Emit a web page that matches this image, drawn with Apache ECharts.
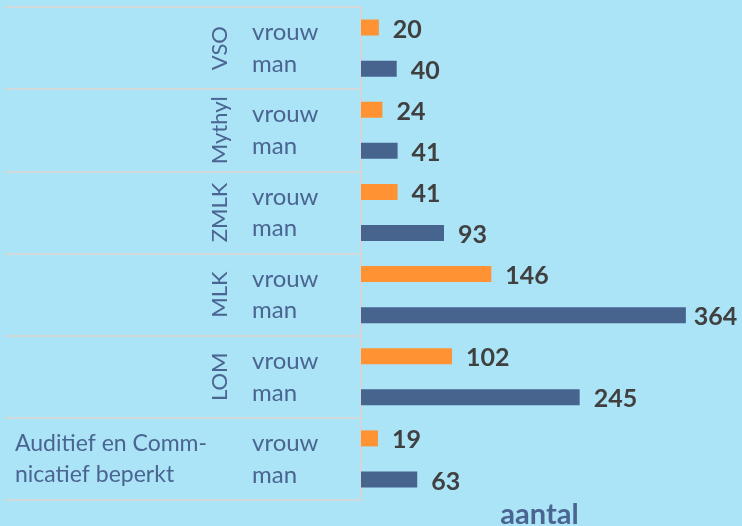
<!DOCTYPE html>
<html>
<head>
<meta charset="utf-8">
<script src="https://cdn.jsdelivr.net/npm/echarts@6/dist/echarts.min.js"></script>
<style>
html,body{margin:0;padding:0;background:#abe3f7;}
#chart{width:742px;height:526px;}
</style>
</head>
<body>
<div id="chart"></div>
<script>
var groups = ['VSO', 'Mythyl', 'ZMLK', 'MLK', 'LOM', 'Auditief en Comm-\nnicatief beperkt'];
var genders = ['vrouw', 'man'];
var vrouw = [20, 24, 41, 146, 102, 19];
var man = [40, 41, 93, 364, 245, 63];
var xTitle = 'aantal';

var colVrouw = '#ff9232';
var colMan = '#47648f';
var textCol = '#4a6591';
var font = 'Lato';

var cats = [];
var data = [];
var maxVal = Math.max.apply(null, vrouw.concat(man));
groups.forEach(function (g, i) {
  [vrouw[i], man[i]].forEach(function (v, k) {
    cats.push(g + '|' + genders[k]);
    data.push({
      value: v,
      itemStyle: { color: k === 0 ? colVrouw : colMan },
      label: { distance: v === maxVal ? 8 : 14 }
    });
  });
});

var chart = echarts.init(document.getElementById('chart'));

chart.setOption({
  backgroundColor: '#abe3f7',
  animation: false,
  grid: { left: 361, right: 24, top: 7, bottom: 26, containLabel: false, outerBoundsMode: 'none' },
  xAxis: {
    type: 'value', min: 0, max: 400,
    axisLine: { show: false }, axisTick: { show: false },
    axisLabel: { show: false }, splitLine: { show: false },
    name: xTitle, nameLocation: 'middle', nameGap: 0,
    nameTextStyle: { color: textCol, fontFamily: font, fontWeight: 'bold', fontSize: 29, verticalAlign: 'top' }
  },
  yAxis: [
    {
      type: 'category', data: cats, inverse: true, position: 'left',
      axisLine: { show: true, lineStyle: { color: '#d0d6d9', width: 2 } },
      axisTick: { show: false },
      axisLabel: {
        interval: 0, align: 'left', margin: 109,
        color: textCol, fontFamily: font, fontSize: 24,
        formatter: function (v) {
          var s = v.split('|')[1];
          return s === 'vrouw' ? '{v|' + s + '}' : '{m|' + s + '}';
        },
        rich: {
          v: { color: textCol, fontFamily: font, fontSize: 24, padding: [10, 0, 0, 0] },
          m: { color: textCol, fontFamily: font, fontSize: 24, padding: [0, 0, 9, 0] }
        }
      }
    },
    {
      type: 'category', data: groups, inverse: true, position: 'left',
      axisLine: { show: false },
      axisTick: { show: true, interval: 0, length: 356, lineStyle: { color: '#d3d8db', width: 2 } },
      axisLabel: {
        interval: 0, rotate: 90, margin: 130,
        color: textCol, fontFamily: font, fontSize: 22,
        formatter: function (v) { return v.indexOf('\n') >= 0 ? '' : v; }
      }
    },
    {
      type: 'category', data: groups, inverse: true, position: 'left',
      axisLine: { show: false }, axisTick: { show: false },
      axisLabel: {
        interval: 0, align: 'left', margin: 346,
        color: textCol, fontFamily: font, fontSize: 23, lineHeight: 31,
        padding: [0, 0, 6, 0],
        formatter: function (v) { return v.indexOf('\n') >= 0 ? v : ''; }
      }
    }
  ],
  series: [{
    type: 'bar', yAxisIndex: 0, data: data, barWidth: 16,
    label: {
      show: true, position: 'right', offset: [0, 2],
      color: '#404040', fontFamily: font, fontWeight: 'bold', fontSize: 25
    }
  }]
});
</script>
</body>
</html>
